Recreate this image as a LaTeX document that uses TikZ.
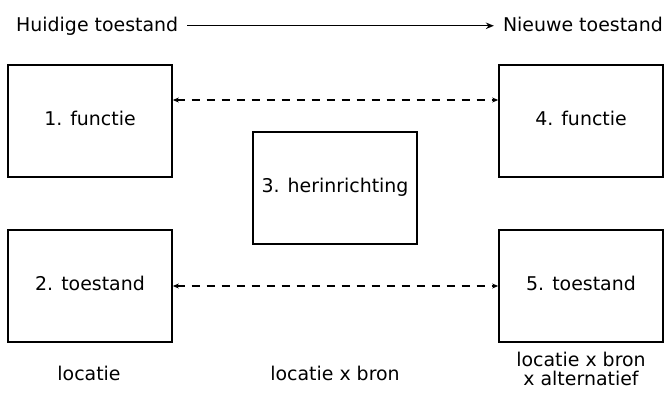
\documentclass[tikz,border=0pt]{standalone}
\usepackage{fontspec}
\setmainfont{DejaVu Sans}
\usetikzlibrary{arrows.meta}
\begin{document}
\begin{tikzpicture}
[x=1bp,y=-1bp,%
 font=\fontsize{19}{20}\selectfont,%
 boxstyle/.style={draw,line width=1.7bp,minimum width=164bp,minimum height=112bp,text height=14bp,text depth=6bp,inner sep=0pt},%
 labelstyle/.style={inner sep=0pt,anchor=base},%
 linkstyle/.style={line width=1.6bp,dash pattern=on 8bp off 7bp,{Stealth[length=6bp,width=5bp]}-{Stealth[length=6bp,width=5bp]}},%
 axisstyle/.style={line width=1.4bp,-{Stealth[length=8bp,width=6.5bp]},shorten <=9bp,shorten >=9bp}]
\useasboundingbox (0,0) rectangle (665,392);
%% current and new state
\node[labelstyle,anchor=base west] (huidig) at (16,31) {Huidige toestand};
\node[labelstyle,anchor=base east] (nieuw) at (663,31) {Nieuwe toestand};
\draw[axisstyle] (huidig.east) -- (huidig.east -| nieuw.west);
%% boxes
\node[boxstyle] (functie1) at (90,121) {1. functie};
\node[boxstyle] (toestand2) at (90,286) {2. toestand};
\node[boxstyle] (herinrichting3) at (335,188) {3. herinrichting};
\node[boxstyle] (functie4) at (581,121) {4. functie};
\node[boxstyle] (toestand5) at (581,286) {5. toestand};
%% links between the boxes
\draw[linkstyle] ([yshift=21bp]functie1.east) -- ([yshift=21bp]functie4.west);
\draw[linkstyle] (toestand2.east) -- (toestand5.west);
%% labels below
\node[labelstyle] (locatie1) at (89,380) {locatie};
\node[labelstyle] (locatie3) at (335,380) {locatie x bron};
\node[inner sep=0pt,align=center,font=\fontsize{19}{19}\selectfont] (locatie5) at (581,369) {locatie x bron\\x alternatief};
\end{tikzpicture}
\end{document}
